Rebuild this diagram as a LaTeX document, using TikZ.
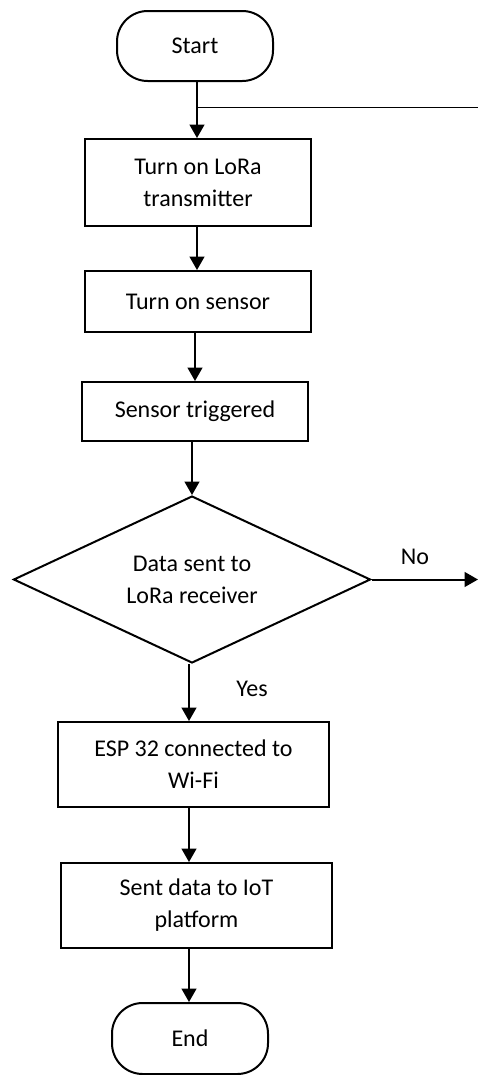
\documentclass[tikz,border=0pt]{standalone}
\usepackage{fontspec}
\setmainfont{Carlito}
\usetikzlibrary{arrows.meta,shapes.geometric}
\begin{document}
\begin{tikzpicture}[x=0.75pt,y=-0.75pt,
  every node/.style={font=\fontsize{18}{24}\selectfont, inner sep=0pt},
  box/.style={draw, line width=1.5pt, align=center},
  term/.style={draw, line width=1.5pt, rounded corners=23pt, minimum width=156*0.75pt, minimum height=70*0.75pt},
  decision/.style={draw, line width=1.5pt, diamond, shape aspect=2.14, align=center, minimum width=357*0.75pt, minimum height=167*0.75pt},
  arr/.style={line width=1.5pt, -{Triangle[width=11pt,length=10pt]}},
  lbl/.style={anchor=center}]
\useasboundingbox (0,0) rectangle (478,1075);
\node[term] (start) at (195,46) {Start};
\node[box, minimum width=226*0.75pt, minimum height=87*0.75pt] (b1) at (198,182.5) {Turn on LoRa\\transmitter};
\node[box, minimum width=226*0.75pt, minimum height=61*0.75pt] (b2) at (198,301.5) {Turn on sensor};
\node[box, minimum width=226*0.75pt, minimum height=59*0.75pt] (b3) at (195,411.5) {Sensor triggered};
\node[decision] (dec) at (192,579.5) {Data sent to\\LoRa receiver};
\node[box, minimum width=271*0.75pt, minimum height=85*0.75pt] (esp) at (193.5,764.5) {ESP 32 connected to\\Wi-Fi};
\node[box, minimum width=271*0.75pt, minimum height=85*0.75pt] (sent) at (196.5,905.5) {Sent data to IoT\\platform};
\node[term, minimum height=71*0.75pt] (end) at (190,1038.5) {End};
\coordinate (c197) at (197,0);
\coordinate (c195) at (195,0);
\coordinate (c192) at (192,0);
\coordinate (c189) at (189,0);
\coordinate (join) at (197,107);
\coordinate (loopend) at (478,107);
\coordinate (noend) at (478,579.5);
\draw[arr] (start.south -| c197) -- (b1.north -| c197);
\draw[line width=0.75pt] (join) -- (loopend);
\draw[arr] (b1.south -| c197) -- (b2.north -| c197);
\draw[arr] (b2.south -| c195) -- (b3.north -| c195);
\draw[arr] (b3.south -| c192) -- (dec.north);
\draw[arr] (dec.east) -- (noend);
\draw[arr] (dec.south -| c189) -- (esp.north -| c189);
\draw[arr] (esp.south -| c189) -- (sent.north -| c189);
\draw[arr] (sent.south -| c189) -- (end.north -| c189);
\node[lbl] (no) at (415,557) {No};
\node[lbl] (yes) at (252,689) {Yes};
\end{tikzpicture}
\end{document}
